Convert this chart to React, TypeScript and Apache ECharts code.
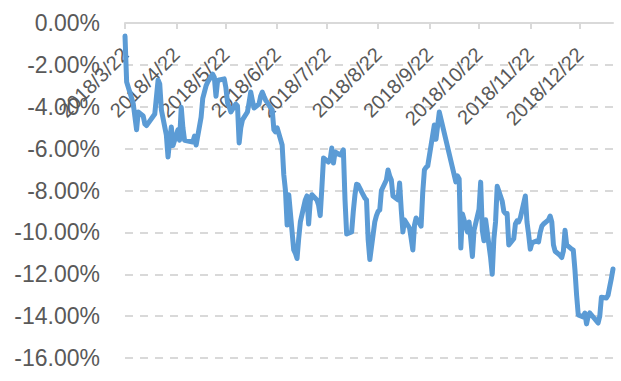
import React, { useEffect, useRef } from "react";
import * as echarts from "echarts";

const axisStart = "2018/3/22";
const axisEnd = "2019/1/11";
const tickDates = [
  "2018/3/22", "2018/4/22", "2018/5/22", "2018/6/22", "2018/7/22",
  "2018/8/22", "2018/9/22", "2018/10/22", "2018/11/22", "2018/12/22",
];
const yMin = -16;
const yMax = 0;
const yStep = 2;

const tradeDates = [
  "2018/3/22", "2018/3/23", "2018/3/26", "2018/3/27", "2018/3/29", "2018/3/30",
  "2018/4/2", "2018/4/3", "2018/4/4", "2018/4/9", "2018/4/11", "2018/4/12", "2018/4/13",
  "2018/4/16", "2018/4/17", "2018/4/18", "2018/4/19", "2018/4/20", "2018/4/23", "2018/4/24",
  "2018/4/25", "2018/4/26", "2018/4/27",
  "2018/5/2", "2018/5/3", "2018/5/4", "2018/5/7", "2018/5/8", "2018/5/9", "2018/5/10", "2018/5/11",
  "2018/5/14", "2018/5/15", "2018/5/16", "2018/5/17", "2018/5/18", "2018/5/21", "2018/5/22",
  "2018/5/23", "2018/5/24", "2018/5/25", "2018/5/28", "2018/5/29", "2018/5/30", "2018/5/31",
  "2018/6/1", "2018/6/4", "2018/6/5", "2018/6/6", "2018/6/7", "2018/6/8", "2018/6/11", "2018/6/12",
  "2018/6/13", "2018/6/14", "2018/6/15", "2018/6/19", "2018/6/20", "2018/6/21", "2018/6/22",
  "2018/6/25", "2018/6/26", "2018/6/27", "2018/6/28", "2018/6/29",
  "2018/7/2", "2018/7/3", "2018/7/4", "2018/7/5", "2018/7/6", "2018/7/9", "2018/7/10", "2018/7/11",
  "2018/7/12", "2018/7/13", "2018/7/16", "2018/7/17", "2018/7/18", "2018/7/19", "2018/7/20",
  "2018/7/23", "2018/7/24", "2018/7/25", "2018/7/26", "2018/7/27", "2018/7/30", "2018/7/31",
  "2018/8/1", "2018/8/2", "2018/8/3", "2018/8/6", "2018/8/7", "2018/8/8", "2018/8/9", "2018/8/10",
  "2018/8/13", "2018/8/14", "2018/8/15", "2018/8/16", "2018/8/17", "2018/8/20", "2018/8/21",
  "2018/8/22", "2018/8/23", "2018/8/24", "2018/8/27", "2018/8/28", "2018/8/29", "2018/8/30", "2018/8/31",
  "2018/9/3", "2018/9/4", "2018/9/5", "2018/9/6", "2018/9/7", "2018/9/10", "2018/9/11", "2018/9/12",
  "2018/9/13", "2018/9/14", "2018/9/17", "2018/9/18", "2018/9/19", "2018/9/20", "2018/9/21",
  "2018/9/25", "2018/9/26", "2018/9/27", "2018/9/28",
  "2018/10/8", "2018/10/9", "2018/10/10", "2018/10/11", "2018/10/12", "2018/10/15", "2018/10/16",
  "2018/10/17", "2018/10/18", "2018/10/19", "2018/10/22", "2018/10/23", "2018/10/24", "2018/10/25",
  "2018/10/26", "2018/10/29", "2018/10/30", "2018/10/31",
  "2018/11/1", "2018/11/2", "2018/11/5", "2018/11/6", "2018/11/7", "2018/11/8", "2018/11/9",
  "2018/11/12", "2018/11/13", "2018/11/14", "2018/11/15", "2018/11/16", "2018/11/19", "2018/11/20",
  "2018/11/21", "2018/11/22", "2018/11/23", "2018/11/26", "2018/11/27", "2018/11/28", "2018/11/29",
  "2018/11/30",
  "2018/12/3", "2018/12/4", "2018/12/5", "2018/12/6", "2018/12/7", "2018/12/10", "2018/12/11",
  "2018/12/12", "2018/12/13", "2018/12/14", "2018/12/17", "2018/12/18", "2018/12/19", "2018/12/20",
  "2018/12/21", "2018/12/24", "2018/12/25", "2018/12/26", "2018/12/27", "2018/12/28",
  "2019/1/2", "2019/1/3", "2019/1/4", "2019/1/7", "2019/1/8", "2019/1/9", "2019/1/10", "2019/1/11",
];

// cumulative return, in percent
const cumReturn = [
  -0.62, -2.82, -3.58, -3.87, -5.10, -4.25,
  -4.44, -4.82, -4.90, -4.35, -2.72, -2.91, -4.15,
  -5.35, -6.40, -5.60, -4.97, -5.85, -5.10, -5.60,
  -4.02, -5.00, -5.60,
  -5.68, -5.40, -5.83, -4.50, -3.60, -3.30, -3.00, -2.82,
  -2.44, -2.60, -3.50, -2.75, -2.72, -2.67, -3.10,
  -3.82, -4.00, -4.25, -3.87, -3.96, -5.73, -5.00,
  -4.63, -4.25, -3.80, -3.30, -3.70, -4.06, -3.87, -3.50,
  -3.30, -3.50, -3.68, -4.15, -5.10, -5.20, -5.01,
  -5.83, -7.26, -8.00, -9.65, -8.20,
  -10.84, -11.00, -11.25, -10.30, -9.50, -8.45, -8.26, -9.60,
  -8.50, -8.20, -8.45, -8.69, -9.20, -7.88, -6.45,
  -6.64, -6.54, -5.97, -6.69, -6.16, -6.30, -6.20,
  -6.06, -8.45, -10.08, -9.98, -9.00, -8.21, -7.70, -7.74,
  -8.21, -8.36, -8.45, -10.36, -11.30, -9.50, -9.20,
  -9.00, -8.93, -8.00, -7.50, -7.02, -7.30, -7.50, -8.26,
  -8.45, -7.64, -8.93, -9.98, -9.41, -9.79, -10.30, -10.84,
  -9.65, -9.31, -9.70, -8.07, -7.02, -6.90, -6.83,
  -4.87, -5.55, -4.90, -4.25,
  -7.59, -7.30, -7.45, -10.75, -9.12, -9.98, -9.50,
  -10.30, -11.15, -9.90, -8.90, -7.60, -9.90, -10.40,
  -9.40, -11.20, -12.00, -10.30,
  -9.50, -7.80, -8.50, -9.00, -9.10, -9.10, -10.60,
  -10.30, -9.60, -9.45, -9.50, -9.30, -8.26, -9.50,
  -10.10, -10.80, -10.50, -10.40, -10.45, -10.00, -9.70,
  -9.60,
  -9.40, -9.22, -9.50, -10.60, -10.90, -11.10, -11.20,
  -10.90, -9.90, -10.60, -10.80, -10.85, -11.80, -13.00,
  -13.94, -14.04, -13.85, -14.37, -14.00, -13.85,
  -14.33, -14.00, -13.10, -13.13, -13.00, -12.60, -12.20, -11.75,
];

function toTime(s: string): number {
  const [y, m, d] = s.split("/").map(Number);
  return new Date(y, m - 1, d).getTime();
}

function fmtDate(v: number): string {
  const d = new Date(v);
  return `${d.getFullYear()}/${d.getMonth() + 1}/${d.getDate()}`;
}

const FONT = "'Liberation Sans', Arial, sans-serif";

export default function App() {
  const ref = useRef<HTMLDivElement>(null);

  useEffect(() => {
    if (!ref.current) return;
    const chart = echarts.init(ref.current, undefined, { renderer: "svg" });
    const ticks = tickDates.map(toTime);
    const data = tradeDates.map((d, i) => [toTime(d), cumReturn[i]]);
    chart.setOption({
      animation: false,
      backgroundColor: "#ffffff",
      grid: {
        left: 125,
        right: 8,
        top: 23,
        bottom: 23,
        containLabel: false,
        outerBoundsMode: "none",
      },
      xAxis: {
        type: "value",
        position: "top",
        min: toTime(axisStart),
        max: toTime(axisEnd),
        axisLine: {
          onZero: false,
          lineStyle: { color: "#d9d9d9", width: 2 },
        },
        axisTick: {
          show: true,
          inside: true,
          length: 6,
          customValues: ticks,
          lineStyle: { color: "#d9d9d9", width: 2 },
        },
        axisLabel: {
          customValues: ticks,
          inside: true,
          rotate: -45,
          margin: 28,
          padding: [12, 0, 0, 0],
          fontSize: 20,
          fontFamily: FONT,
          color: "#595959",
          formatter: (v: number) => fmtDate(v),
          hideOverlap: false,
        },
        splitLine: { show: false },
      },
      yAxis: {
        type: "value",
        min: yMin,
        max: yMax,
        interval: yStep,
        axisLine: { show: false },
        axisTick: { show: false },
        axisLabel: {
          margin: 25,
          fontSize: 23,
          fontFamily: FONT,
          color: "#595959",
          formatter: (v: number) => `${v.toFixed(2)}%`,
        },
        splitLine: {
          show: true,
          lineStyle: { color: "#d9d9d9", width: 2, type: [8, 7] },
        },
      },
      series: [
        {
          type: "line",
          data,
          showSymbol: false,
          symbol: "none",
          lineStyle: { color: "#5b9bd5", width: 5, cap: "round", join: "round" },
          z: 3,
        },
      ],
    });
    return () => chart.dispose();
  }, []);

  return (
    <div
      ref={ref}
      style={{ position: "fixed", left: 0, top: 0, width: 621, height: 381, background: "#fff" }}
    />
  );
}
